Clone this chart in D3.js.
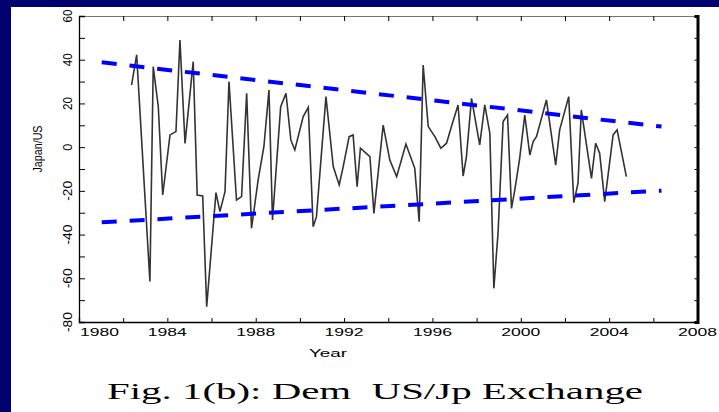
<!DOCTYPE html>
<html>
<head>
<meta charset="utf-8">
<script src="https://cdn.jsdelivr.net/npm/d3@7"></script>
<style>
  html, body { margin: 0; padding: 0; background: #00006e; }
  svg { display: block; }
  .caption { white-space: pre; }
</style>
</head>
<body>
<script>
// Series (decimal year, value)
var obsYears = [1982.38, 1982.61, 1983.21, 1983.36, 1983.59, 1983.79, 1984.12, 1984.39, 1984.57, 1984.80,
  1985.17, 1985.35, 1985.60, 1985.78, 1986.20, 1986.38, 1986.61, 1986.79, 1987.13, 1987.36,
  1987.59, 1987.81, 1988.11, 1988.37, 1988.60, 1988.76, 1989.13, 1989.37, 1989.59, 1989.77,
  1990.15, 1990.38, 1990.60, 1990.75, 1991.18, 1991.51, 1991.78, 1991.96, 1992.23, 1992.41,
  1992.59, 1992.74, 1993.17, 1993.35, 1993.77, 1994.07, 1994.38, 1994.80, 1995.20, 1995.40,
  1995.58, 1995.81, 1996.11, 1996.38, 1996.64, 1996.86, 1997.16, 1997.39, 1997.54, 1997.77,
  1998.14, 1998.37, 1998.60, 1998.78, 1998.97, 1999.20, 1999.40, 1999.58, 1999.73, 1999.95,
  2000.18, 2000.41, 2000.56, 2000.71, 2001.16, 2001.58, 2001.76, 2002.17, 2002.40, 2002.59,
  2002.74, 2003.20, 2003.39, 2003.57, 2003.80, 2004.18, 2004.36, 2004.78];

var obsValues = [28.4, 42.2, -61.5, 36.8, 18.5, -21.9, 5.6, 7.1, 49.0, 1.7,
  39.1, -21.9, -22.3, -73.0, -20.8, -29.5, -20.4, 30.0, -24.2, -22.6,
  24.6, -37.1, -15.0, 0.2, 26.1, -33.3, 18.5, 24.6, 3.3, -1.3,
  14.0, 18.2, -36.4, -31.8, 23.1, -8.9, -17.3, -8.9, 4.8, 5.6,
  -18.1, -0.5, -4.3, -30.3, 10.1, -5.9, -13.5, 1.4, -9.7, -34.1,
  37.6, 9.4, 4.8, -0.5, 1.8, 9.4, 19.3, -13.2, -4.3, 22.3,
  1.0, 19.3, 6.3, -64.6, -39.4, 11.7, 14.7, -28.0, -19.6, -5.1,
  14.7, -3.6, 2.5, 4.8, 21.6, -8.2, 7.9, 23.1, -25.4, -16.5,
  17.0, -14.3, 1.8, -2.8, -24.9, 5.6, 7.9, -13.5];

// Dashed envelope lines (start / end)
var trendYears = [1981.03, 2006.37];
var upperTrend = [38.8, 9.4];
var lowerTrend = [-34.4, -19.9];

// Axis ticks
var xTickLabels = [1980, 1984, 1988, 1992, 1996, 2000, 2004, 2008];
var yTickLabels = [60, 40, 20, 0, -20, -40, -60, -80];

var axisTitleX = "Year";
var axisTitleY = "Japan/US";
var captionText = "Fig. 1(b): Dem  US/Jp Exchange";

var width = 719, height = 412;
var frame = { left: 79, right: 697.5, top: 16, bottom: 322 };

var svg = d3.select("body").append("svg")
    .attr("width", width)
    .attr("height", height);

// white paper panel on navy slide
svg.append("rect")
    .attr("x", 11).attr("y", 7)
    .attr("width", width - 11).attr("height", height - 7)
    .attr("fill", "#ffffff");

var x = d3.scaleLinear().domain([1980, 2008]).range([frame.left, frame.right]);
var y = d3.scaleLinear().domain([-80, 60]).range([frame.bottom, frame.top]);

var g = svg.append("g");

// ----- axes (ticks drawn inward) -----
var minorX = d3.range(1980, 2009, 2);
var minorY = d3.range(-80, 61, 10);

var bottomAxis = d3.axisBottom(x).tickValues(minorX).tickSize(-4).tickFormat("");
var topAxis = d3.axisTop(x).tickValues(minorX).tickSize(-5).tickFormat("");
var leftAxis = d3.axisLeft(y).tickValues(minorY).tickSize(-6).tickFormat("");
var rightAxis = d3.axisRight(y).tickValues(minorY).tickSize(-3).tickFormat("");

function styleAxis(sel, col, w) {
  sel.selectAll("path").attr("stroke", col).attr("stroke-width", w);
  sel.selectAll("line").attr("stroke", "#000").attr("stroke-width", 1);
}

g.append("g").attr("transform", "translate(0," + frame.top + ")").call(topAxis)
  .call(styleAxis, "#777", 1);
g.append("g").attr("transform", "translate(0," + frame.bottom + ")").call(bottomAxis)
  .call(styleAxis, "#000", 1.3);
g.append("g").attr("transform", "translate(" + frame.left + ",0)").call(leftAxis)
  .call(styleAxis, "#000", 1.3);
g.append("g").attr("transform", "translate(" + frame.right + ",0)").call(rightAxis)
  .call(styleAxis, "#000", 3);
g.selectAll(".domain").attr("fill", "none");

// x tick labels (1980 pushed right of the corner)
g.selectAll(".xlab")
  .data(xTickLabels)
  .enter().append("text")
    .attr("class", "xlab")
    .attr("x", function(d) { return d === 1980 ? x(d) + 1 : x(d) - 19.5; })
    .attr("y", 336)
    .attr("textLength", 39)
    .attr("lengthAdjust", "spacingAndGlyphs")
    .attr("font-family", "Liberation Sans, Arial, sans-serif")
    .attr("font-size", 10)
    .attr("fill", "#000")
    .text(function(d) { return d; });

// y tick labels, rotated to read upward
g.selectAll(".ylab")
  .data(yTickLabels)
  .enter().append("text")
    .attr("class", "ylab")
    .attr("transform", function(d) { return "translate(72," + y(d) + ") rotate(-90)"; })
    .attr("text-anchor", "middle")
    .attr("textLength", function(d) { return d < 0 ? 20 : (d === 0 ? 7 : 13); })
    .attr("lengthAdjust", "spacingAndGlyphs")
    .attr("font-family", "Liberation Sans, Arial, sans-serif")
    .attr("font-size", 13.5)
    .attr("fill", "#000")
    .text(function(d) { return d; });

// axis titles
g.append("text")
    .attr("x", 328).attr("y", 357)
    .attr("text-anchor", "middle")
    .attr("textLength", 38)
    .attr("lengthAdjust", "spacingAndGlyphs")
    .attr("font-family", "Liberation Sans, Arial, sans-serif")
    .attr("font-size", 11)
    .text(axisTitleX);

g.append("text")
    .attr("transform", "translate(42,149) rotate(-90)")
    .attr("text-anchor", "middle")
    .attr("textLength", 47)
    .attr("lengthAdjust", "spacingAndGlyphs")
    .attr("font-family", "Liberation Sans, Arial, sans-serif")
    .attr("font-size", 13.5)
    .text(axisTitleY);

// ----- the series -----
var line = d3.line()
    .x(function(d) { return x(d[0]); })
    .y(function(d) { return y(d[1]); });

var series = obsYears.map(function(yr, i) { return [yr, obsValues[i]]; });

g.append("path")
    .datum(series)
    .attr("d", line)
    .attr("fill", "none")
    .attr("stroke", "#333")
    .attr("stroke-width", 1.6)
    .attr("stroke-linejoin", "miter");

// ----- dashed blue envelopes -----
[upperTrend, lowerTrend].forEach(function(tr) {
  var pts = trendYears.map(function(yr, i) { return [yr, tr[i]]; });
  g.append("path")
      .datum(pts)
      .attr("d", line)
      .attr("fill", "none")
      .attr("stroke", "#0000ff")
      .attr("stroke-width", 4)
      .attr("stroke-dasharray", "15,12.9");
});

// caption (keep the double space)
svg.append("text")
    .attr("class", "caption")
    .attr("x", 107).attr("y", 398.5)
    .attr("textLength", 536)
    .attr("lengthAdjust", "spacingAndGlyphs")
    .attr("font-family", "Liberation Serif, Times New Roman, serif")
    .attr("font-size", 24)
    .attr("fill", "#000")
    .text(captionText);
</script>
</body>
</html>
